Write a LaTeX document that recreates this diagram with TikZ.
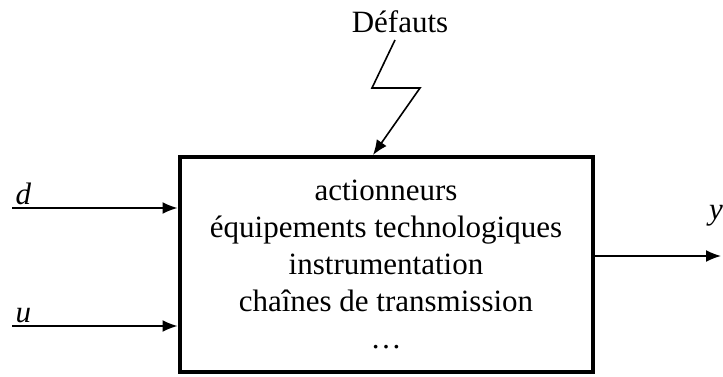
\documentclass[tikz,border=0pt]{standalone}
\usepackage{fontspec}
\setmainfont{Liberation Serif}
\usetikzlibrary{arrows,arrows.meta,calc,positioning}
\tikzset{
    block/.style = {draw, rectangle, line width=4pt,
        minimum height=215pt,
        minimum width=413pt, align=center},
    input/.style = {coordinate},
    output/.style = {coordinate},
    arrow/.style={draw, line width=1.6pt, ->},
    sig/.style = {font=\fontsize{31}{37}\selectfont\itshape}
}
\begin{document}
\begin{tikzpicture}[x=1pt,y=1pt,auto,>={Latex[length=15pt,width=12pt]},
    every node/.style={font=\fontsize{31}{37}\selectfont}]
        \useasboundingbox (0,0) rectangle (723,376);
        \node [block] (sys) at (386,111.5) {actionneurs\\
            équipements technologiques\\instrumentation\\
            chaînes de transmission\\…};
        % entrees
        \node [input] (ind) at (12,168) {};
        \node [input] (inu) at (12,50) {};
        \draw [arrow] (ind) -- (ind -| sys.west);
        \draw [arrow] (inu) -- (inu -| sys.west);
        \node [sig,above right=0pt and 0pt of ind] (d) {d};
        \node [sig,above right=0pt and 0pt of inu] (u) {u};
        % sortie
        \node [output] (out) at (721,120) {};
        \draw [arrow] (out -| sys.east) -- (out);
        \node [sig] (y) at (716,160) {y};
        % defauts
        \node (def) at (400,354) {Défauts};
        \coordinate (b1) at (395,336);
        \coordinate (b2) at (372,288);
        \coordinate (b3) at (420,288);
        \draw [arrow] (b1) -- (b2) -- (b3) -- (sys.north -| 373,0);
    \end{tikzpicture}
\end{document}
